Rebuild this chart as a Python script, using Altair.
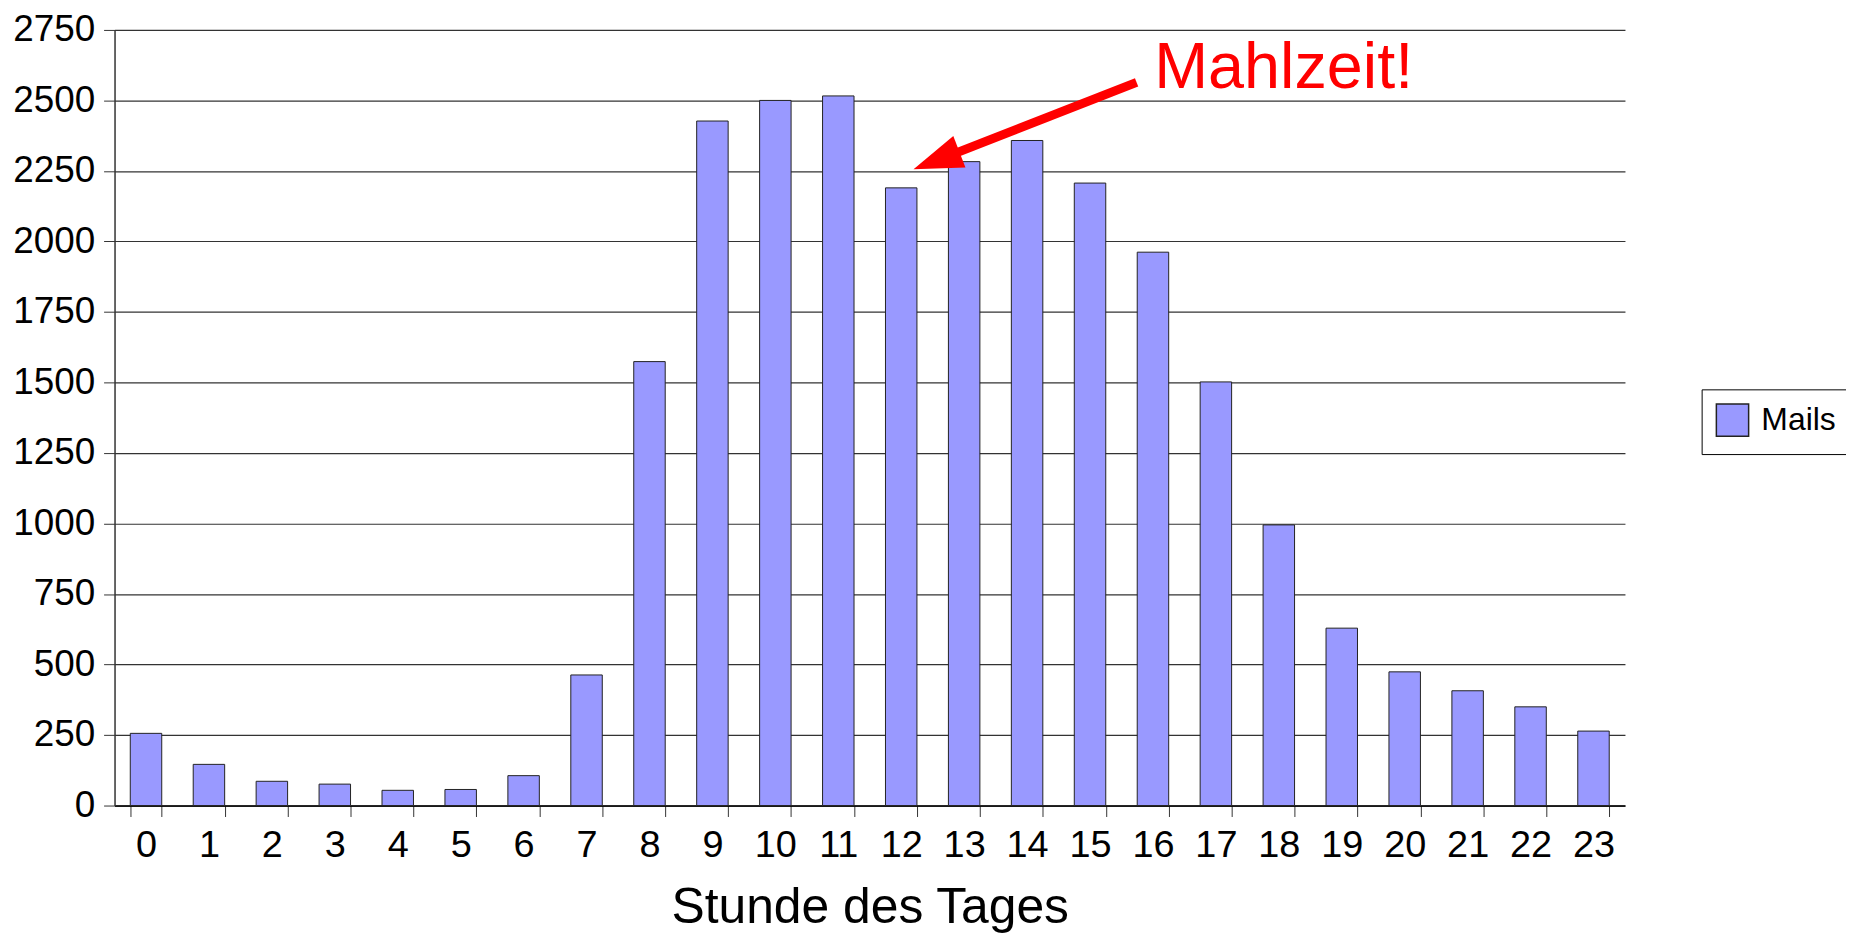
import altair as alt
import pandas as pd

# --- data ---
hours = list(range(24))
mails = [256, 146, 86, 76, 54, 57, 106, 463, 1574, 2427, 2500, 2516,
         2190, 2283, 2358, 2207, 1962, 1502, 995, 629, 474, 407, 350, 264]
series_name = "Mails"
y_ticks = list(range(0, 2751, 250))

# annotation (data coordinates: hour axis, mail count axis)
arrow_tail_x = [15.74]
arrow_tail_y = [2564]
arrow_end_x = [12.6]
arrow_end_y = [2290]
head_x = [12.56]
head_y = [2287]
label_text = ["Mahlzeit!"]
label_x = [16.02]
label_y = [2543]

FONT = "Liberation Sans"

bars_df = pd.DataFrame({"Stunde": hours, "Mails": mails, "Serie": [series_name] * len(hours)})
shaft_df = pd.DataFrame({"x": arrow_tail_x, "Mails": arrow_tail_y, "x2": arrow_end_x, "y2": arrow_end_y})
head_df = pd.DataFrame({"x": head_x, "Mails": head_y})
text_df = pd.DataFrame({"x": label_x, "Mails": label_y, "t": label_text})

yscale = alt.Scale(domain=[0, 2750], nice=False, zero=True)
yaxis = alt.Axis(values=y_ticks, format="d", title=None, grid=True, gridColor="#333333", gridWidth=1.2,
                 domainColor="#333333", domainWidth=1.5, tickColor="#333333", tickSize=11,
                 labelFontSize=37, labelFont=FONT, labelColor="black", labelPadding=9)
Y = alt.Y("Mails:Q", scale=yscale, axis=yaxis)

bars = alt.Chart(bars_df).mark_bar(stroke="#222222", strokeWidth=1).encode(
    x=alt.X("Stunde:O",
            scale=alt.Scale(paddingInner=0.5, paddingOuter=0.25),
            axis=alt.Axis(title="Stunde des Tages", labelAngle=0, tickBand="extent",
                          tickSize=11, tickColor="#333333", domainColor="black", domainWidth=1.5,
                          labelFontSize=38, labelFont=FONT, labelColor="black", labelPadding=10,
                          titleFontSize=50, titleFont=FONT, titleFontWeight="normal",
                          titleColor="black", titlePadding=18)),
    y=Y,
    color=alt.Color("Serie:N", scale=alt.Scale(domain=[series_name], range=["#9999FF"]),
                    legend=alt.Legend(title=None, orient="none", legendX=1594, legendY=361,
                                      strokeColor="black", fillColor="white", padding=14,
                                      symbolType="square", symbolSize=1050,
                                      symbolStrokeColor="#222222", symbolStrokeWidth=1.5,
                                      labelFontSize=32, labelFont=FONT, labelColor="black",
                                      labelOffset=12)),
)

xq = alt.Scale(domain=[-0.5, 23.5], nice=False, zero=False)

shaft = alt.Chart(shaft_df).mark_rule(color="#FF0000", strokeWidth=9, strokeCap="butt").encode(
    x=alt.X("x:Q", scale=xq, axis=None),
    y=Y,
    x2="x2:Q",
    y2="y2:Q",
)

head = alt.Chart(head_df).mark_point(
    shape="M0,-1L0.69,1L-0.69,1Z", size=2430, angle=249, filled=True,
    color="#FF0000", opacity=1, strokeWidth=0
).encode(
    x=alt.X("x:Q", scale=xq, axis=None),
    y=Y,
)

label = alt.Chart(text_df).mark_text(
    align="left", baseline="alphabetic", fontSize=65, font=FONT, color="#FF0000"
).encode(
    x=alt.X("x:Q", scale=xq, axis=None),
    y=Y,
    text="t:N",
)

annot = alt.layer(shaft, head, label)

chart = alt.layer(bars, annot).resolve_scale(x="independent").properties(
    width=1517, height=779,
    autosize=alt.AutoSizeParams(type="none"),
    padding={"left": 107, "top": 20, "right": 222, "bottom": 129},
).configure(background="white").configure_view(strokeWidth=0)

chart.save("out.html", embed_options={"renderer": "svg", "actions": False})
